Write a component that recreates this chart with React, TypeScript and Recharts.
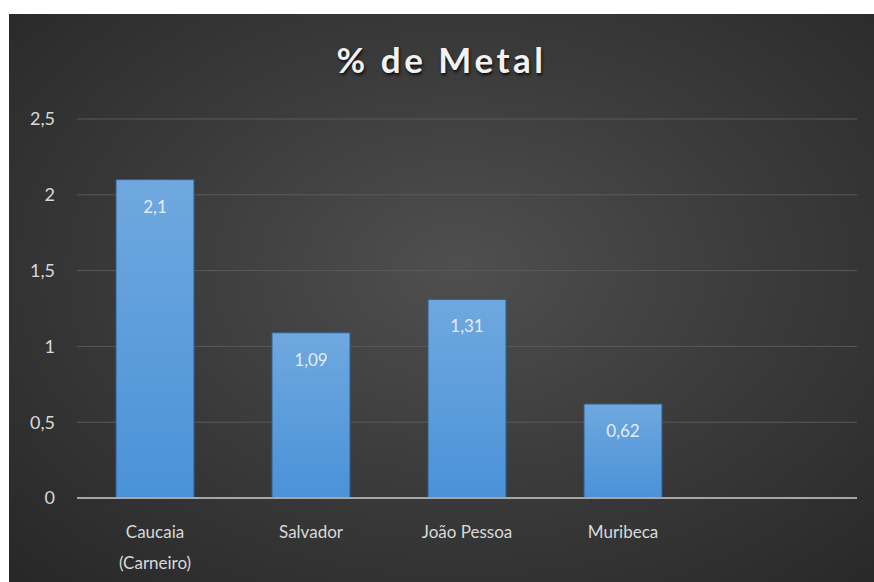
import { BarChart, Bar, XAxis, YAxis, CartesianGrid, LabelList } from 'recharts';

const categories = ['Caucaia\n(Carneiro)', 'Salvador', 'João Pessoa', 'Muribeca', ''];
const metalValues = [2.1, 1.09, 1.31, 0.62, null];
const yTicks = [0, 0.5, 1, 1.5, 2, 2.5];

const FONT = 'Lato, "Open Sans", sans-serif';
const TEXT_COLOR = '#d9d9d9';

const data = categories.map((name, i) => ({ name, value: metalValues[i] }));

const toComma = (v: number | string) => String(v).replace('.', ',');

const CategoryTick = (props: any) => {
    const { x, y, payload } = props;
    const lines = String(payload.value).split('\n');
    return (
        <g transform={`translate(${x},${y})`}>
            {lines.map((line: string, i: number) => (
                <text
                    key={i}
                    x={0}
                    y={28 + i * 31}
                    textAnchor="middle"
                    dominantBaseline="middle"
                    fill={TEXT_COLOR}
                    fontSize={17}
                    fontFamily={FONT}
                >
                    {line}
                </text>
            ))}
        </g>
    );
};

const App = () => {
    return (
        <div
            style={{
                position: 'absolute',
                left: 9,
                top: 14,
                width: 865,
                height: 568,
                background: 'radial-gradient(ellipse at 52% 45%, #4f4f4f 0%, #3c3c3c 45%, #272727 100%)',
                overflow: 'hidden',
            }}
        >
            <div
                style={{
                    position: 'absolute',
                    top: 25,
                    left: 0,
                    width: '100%',
                    textAlign: 'center',
                    color: '#f2f2f2',
                    fontFamily: FONT,
                    fontWeight: 700,
                    fontSize: 35,
                    letterSpacing: 3.5,
                    lineHeight: '40px',
                    textShadow: '1px 2px 3px rgba(0,0,0,0.8)',
                }}
            >
                % de Metal
            </div>
            <BarChart
                width={865}
                height={568}
                data={data}
                margin={{ top: 105, right: 17, left: 0, bottom: 0 }}
                barCategoryGap="25%"
                style={{ position: 'absolute', left: 0, top: 0 }}
            >
                <defs>
                    <linearGradient id="barFill" x1="0" y1="0" x2="0" y2="1">
                        <stop offset="0%" stopColor="#6fa8df" />
                        <stop offset="100%" stopColor="#4a92d8" />
                    </linearGradient>
                </defs>
                <CartesianGrid vertical={false} stroke="#5a5a5a" strokeWidth={1} />
                <XAxis
                    dataKey="name"
                    height={84}
                    tickLine={false}
                    axisLine={{ stroke: '#a6a6a6', strokeWidth: 2 }}
                    tick={<CategoryTick />}
                    interval={0}
                />
                <YAxis
                    width={68}
                    domain={[0, 2.5]}
                    ticks={yTicks}
                    tickLine={false}
                    axisLine={false}
                    tickMargin={16}
                    tickFormatter={toComma}
                    tick={{ fill: TEXT_COLOR, fontSize: 18, fontFamily: FONT }}
                />
                <Bar
                    dataKey="value"
                    fill="url(#barFill)"
                    stroke="#2f5f8f"
                    strokeWidth={1}
                    isAnimationActive={false}
                >
                    <LabelList
                        dataKey="value"
                        position="insideTop"
                        offset={21}
                        formatter={(v: any) => (v == null ? '' : toComma(v))}
                        fill="#e3edf8"
                        fontSize={17}
                        fontFamily={FONT}
                    />
                </Bar>
            </BarChart>
        </div>
    );
};

export default App;
